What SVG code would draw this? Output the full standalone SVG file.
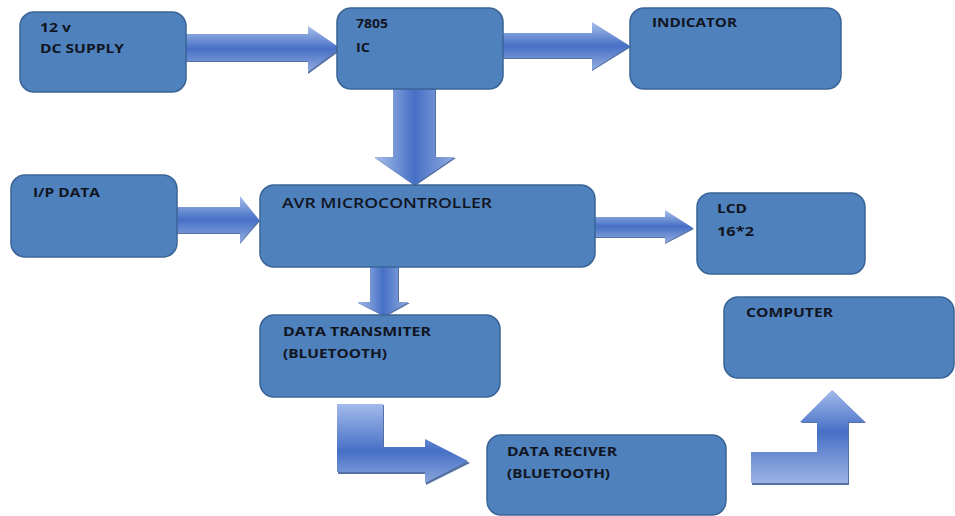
<svg xmlns="http://www.w3.org/2000/svg" width="955" height="516" viewBox="0 0 955 516">
  <defs>
    <linearGradient id="gh" x1="0" y1="0" x2="0" y2="1">
      <stop offset="0" stop-color="#a9bfe9"/>
      <stop offset="0.5" stop-color="#4670c6"/>
      <stop offset="1" stop-color="#94addf"/>
    </linearGradient>
    <linearGradient id="gv" x1="0" y1="0" x2="1" y2="0">
      <stop offset="0" stop-color="#a9bfe9"/>
      <stop offset="0.5" stop-color="#4670c6"/>
      <stop offset="1" stop-color="#94addf"/>
    </linearGradient>
    <linearGradient id="gb1" gradientUnits="userSpaceOnUse" x1="0" y1="404" x2="0" y2="483">
      <stop offset="0" stop-color="#a3baea"/>
      <stop offset="0.6" stop-color="#4670c6"/>
      <stop offset="1" stop-color="#8aa5dc"/>
    </linearGradient>
    <linearGradient id="gb2" gradientUnits="userSpaceOnUse" x1="0" y1="390" x2="0" y2="483">
      <stop offset="0" stop-color="#a3baea"/>
      <stop offset="0.45" stop-color="#4670c6"/>
      <stop offset="1" stop-color="#9cb3e3"/>
    </linearGradient>
  </defs>
  <style>
    .box { fill: #4f81bd; stroke: #3a6496; stroke-width: 1.5; }
    .lbl { font-family: "Open Sans", "Liberation Sans", sans-serif; font-weight: 700; font-size: 11.5px; fill: #111522; }
    .big { font-size: 13.5px; font-weight: 600; }
    .shadow { fill: #2b4c8c; opacity: 0.8; }
    .ah { fill: url(#gh); }
    .av { fill: url(#gv); }
  </style>

  <g id="connectors">
    <!-- DC supply -> 7805 -->
    <polygon class="shadow" points="186,35 308,35 308,27 341,50 308,74 308,62 186,62"/>
    <polygon class="ah" points="186,34 308,34 308,26 340,48 308,72 308,61 186,61"/>
    <!-- 7805 -> indicator -->
    <polygon class="shadow" points="503,34 592,34 592,23 631,47 592,71 592,59 503,59"/>
    <polygon class="ah" points="503,33 592,33 592,22 630,46 592,70 592,58 503,58"/>
    <!-- 7805 -> AVR -->
    <polygon class="shadow" points="394,89 436,89 436,158 456,158 415,186 375,158 394,158"/>
    <polygon class="av" points="393,89 435,89 435,157 455,157 414,185 374,157 393,157"/>
    <!-- I/P -> AVR -->
    <polygon class="shadow" points="177,208 240,208 240,197 260,221 240,244 240,234 177,234"/>
    <polygon class="ah" points="177,207 240,207 240,196 259,220 240,243 240,233 177,233"/>
    <!-- AVR -> LCD -->
    <polygon class="shadow" points="595,218 665,218 665,211 694,229 665,244 665,238 595,238"/>
    <polygon class="ah" points="595,217 665,217 665,210 693,228 665,243 665,237 595,237"/>
    <!-- AVR -> transmitter -->
    <polygon class="shadow" points="371,267 399,267 399,303 410,303 385,317 358,303 371,303"/>
    <polygon class="av" points="370,267 398,267 398,302 409,302 384,316 357,302 370,302"/>
    <!-- transmitter -> receiver (bent) -->
    <polygon class="shadow" points="338,405 384,405 384,448 426,448 426,440 470,463 426,485 426,474 338,474"/>
    <polygon fill="url(#gb1)" points="337,404 383,404 383,447 425,447 425,439 468,461 425,483 425,472 337,472"/>
    <!-- receiver -> computer (bent) -->
    <polygon class="shadow" points="752,453 818,453 818,423 801,423 833,391 866,423 849,423 849,485 752,485"/>
    <polygon fill="url(#gb2)" points="751,452 817,452 817,422 800,422 832,390 865,422 848,422 848,483 751,483"/>
  </g>

  <g id="dc-supply">
    <rect class="box" x="20" y="12" width="166" height="80" rx="14"/>
    <text class="lbl" x="40" y="32" textLength="31" lengthAdjust="spacingAndGlyphs">12 v</text>
    <text class="lbl" x="40" y="53" textLength="84" lengthAdjust="spacingAndGlyphs">DC SUPPLY</text>
  </g>
  <g id="ic-7805">
    <rect class="box" x="337" y="8" width="166" height="81" rx="14"/>
    <text class="lbl" x="356" y="28" textLength="32" lengthAdjust="spacingAndGlyphs">7805</text>
    <text class="lbl" x="356" y="52" textLength="14" lengthAdjust="spacingAndGlyphs">IC</text>
  </g>
  <g id="indicator">
    <rect class="box" x="630" y="8" width="211" height="81" rx="14"/>
    <text class="lbl" x="652" y="27" textLength="85" lengthAdjust="spacingAndGlyphs">INDICATOR</text>
  </g>
  <g id="ip-data">
    <rect class="box" x="11" y="175" width="166" height="82" rx="14"/>
    <text class="lbl" x="33" y="197" textLength="67" lengthAdjust="spacingAndGlyphs">I/P DATA</text>
  </g>
  <g id="avr">
    <rect class="box" x="260" y="185" width="335" height="82" rx="14"/>
    <text class="lbl big" x="282" y="208" textLength="210" lengthAdjust="spacingAndGlyphs">AVR MICROCONTROLLER</text>
  </g>
  <g id="lcd">
    <rect class="box" x="697" y="193" width="168" height="81" rx="14"/>
    <text class="lbl" x="717" y="213" textLength="30" lengthAdjust="spacingAndGlyphs">LCD</text>
    <text class="lbl" x="717" y="236" textLength="37" lengthAdjust="spacingAndGlyphs">16*2</text>
  </g>
  <g id="transmitter">
    <rect class="box" x="260" y="315" width="240" height="82" rx="14"/>
    <text class="lbl" x="283" y="336" textLength="148" lengthAdjust="spacingAndGlyphs">DATA TRANSMITER</text>
    <text class="lbl" x="283" y="358" textLength="104" lengthAdjust="spacingAndGlyphs">(BLUETOOTH)</text>
  </g>
  <g id="computer">
    <rect class="box" x="724" y="297" width="230" height="81" rx="14"/>
    <text class="lbl" x="746" y="317" textLength="87" lengthAdjust="spacingAndGlyphs">COMPUTER</text>
  </g>
  <g id="receiver">
    <rect class="box" x="487" y="435" width="239" height="80" rx="14"/>
    <text class="lbl" x="507" y="456" textLength="110" lengthAdjust="spacingAndGlyphs">DATA RECIVER</text>
    <text class="lbl" x="507" y="478" textLength="103" lengthAdjust="spacingAndGlyphs">(BLUETOOTH)</text>
  </g>
</svg>
